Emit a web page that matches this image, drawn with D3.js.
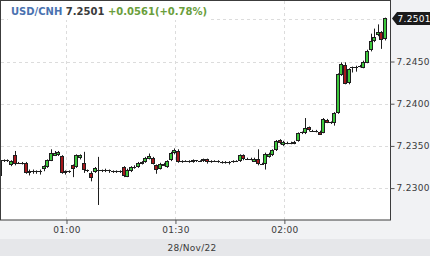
<!DOCTYPE html>
<meta charset="utf-8">
<script src="https://d3js.org/d3.v7.min.js"></script>

<style>
body {
  margin: 0;
  background-color: #F1F2F4;
  font-family: "DejaVu Sans", sans-serif;
}
.grid line {
  stroke: #DCDCDC;
  stroke-dasharray: 3,3;
}
.axis text {
  font-family: "DejaVu Sans", sans-serif;
  font-size: 9px;
  fill: #3A3A3A;
  letter-spacing: 0.3px;
}
.axis path { display: none; }
.axis line { stroke: #555; }
</style>

<svg id="chart" width="430" height="256"></svg>

<script>
// one candle per minute, 00:42 .. 02:28 (28/Nov/22)
const times = [
  "00:42","00:43","00:44","00:45","00:46","00:47","00:48","00:49","00:50","00:51",
  "00:52","00:53","00:54","00:55","00:56","00:57","00:58","00:59","01:00","01:01",
  "01:02","01:03","01:04","01:05","01:06","01:07","01:08","01:09","01:10","01:11",
  "01:12","01:13","01:14","01:15","01:16","01:17","01:18","01:19","01:20","01:21",
  "01:22","01:23","01:24","01:25","01:26","01:27","01:28","01:29","01:30","01:31",
  "01:32","01:33","01:34","01:35","01:36","01:37","01:38","01:39","01:40","01:41",
  "01:42","01:43","01:44","01:45","01:46","01:47","01:48","01:49","01:50","01:51",
  "01:52","01:53","01:54","01:55","01:56","01:57","01:58","01:59","02:00","02:01",
  "02:02","02:03","02:04","02:05","02:06","02:07","02:08","02:09","02:10","02:11",
  "02:12","02:13","02:14","02:15","02:16","02:17","02:18","02:19","02:20","02:21",
  "02:22","02:23","02:24","02:25","02:26","02:27","02:28"
];

const opens = [
  7.2314,7.2332,7.2333,7.2327,7.2339,7.2330,7.2330,7.2330,7.2318,7.2320,
  7.2319,7.2320,7.2322,7.2325,7.2333,7.2339,7.2339,7.2338,7.2318,7.2320,
  7.2327,7.2325,7.2335,7.2330,7.2321,7.2318,7.2319,7.2321,7.2321,7.2320,
  7.2321,7.2320,7.2320,7.2319,7.2325,7.2314,7.2320,7.2324,7.2325,7.2329,
  7.2331,7.2335,7.2336,7.2327,7.2323,7.2327,7.2325,7.2334,7.2341,7.2344,
  7.2331,7.2332,7.2332,7.2331,7.2333,7.2332,7.2332,7.2334,7.2331,7.2332,
  7.2332,7.2331,7.2331,7.2330,7.2331,7.2332,7.2332,7.2339,7.2335,7.2335,
  7.2332,7.2334,7.2329,7.2329,7.2337,7.2339,7.2345,7.2357,7.2351,7.2354,
  7.2354,7.2353,7.2356,7.2365,7.2365,7.2372,7.2368,7.2368,7.2367,7.2366,
  7.2381,7.2378,7.2377,7.2389,7.2434,7.2446,7.2424,7.2442,7.2443,7.2444,
  7.2443,7.2449,7.2463,7.2474,7.2481,7.2485,7.2476
];

const highs = [
  7.2334,7.2334,7.2334,7.2333,7.2344,7.2331,7.2331,7.2331,7.2322,7.2322,
  7.2321,7.2322,7.2327,7.2334,7.2346,7.2344,7.2344,7.2339,7.2321,7.2321,
  7.2328,7.2340,7.2340,7.2343,7.2322,7.2320,7.2325,7.2337,7.2322,7.2323,
  7.2322,7.2321,7.2321,7.2321,7.2326,7.2323,7.2326,7.2327,7.2331,7.2332,
  7.2337,7.2341,7.2337,7.2328,7.2330,7.2330,7.2333,7.2343,7.2347,7.2346,
  7.2333,7.2333,7.2333,7.2334,7.2333,7.2333,7.2335,7.2335,7.2333,7.2333,
  7.2333,7.2332,7.2332,7.2332,7.2333,7.2333,7.2340,7.2340,7.2336,7.2336,
  7.2336,7.2346,7.2330,7.2342,7.2342,7.2346,7.2357,7.2358,7.2356,7.2355,
  7.2355,7.2356,7.2366,7.2367,7.2383,7.2373,7.2369,7.2369,7.2368,7.2383,
  7.2382,7.2379,7.2390,7.2436,7.2449,7.2449,7.2442,7.2444,7.2445,7.2446,
  7.2451,7.2464,7.2483,7.2489,7.2494,7.2486,7.2502
];

const lows = [
  7.2312,7.2331,7.2331,7.2326,7.2327,7.2329,7.2328,7.2317,7.2315,7.2317,
  7.2317,7.2316,7.2320,7.2324,7.2332,7.2338,7.2338,7.2317,7.2316,7.2318,
  7.2313,7.2324,7.2334,7.2318,7.2319,7.2308,7.2318,7.2280,7.2319,7.2319,
  7.2318,7.2318,7.2318,7.2318,7.2313,7.2313,7.2319,7.2323,7.2324,7.2328,
  7.2330,7.2334,7.2328,7.2317,7.2322,7.2326,7.2324,7.2332,7.2340,7.2330,
  7.2330,7.2331,7.2330,7.2330,7.2331,7.2331,7.2331,7.2329,7.2330,7.2331,
  7.2330,7.2329,7.2329,7.2328,7.2330,7.2331,7.2331,7.2333,7.2334,7.2333,
  7.2331,7.2327,7.2328,7.2322,7.2336,7.2338,7.2344,7.2352,7.2350,7.2352,
  7.2352,7.2352,7.2355,7.2364,7.2364,7.2367,7.2367,7.2366,7.2363,7.2365,
  7.2377,7.2376,7.2374,7.2388,7.2433,7.2423,7.2423,7.2437,7.2438,7.2443,
  7.2442,7.2448,7.2462,7.2473,7.2480,7.2465,7.2475
];

const closes = [
  7.2333,7.2333,7.2332,7.2332,7.2328,7.2330,7.2329,7.2318,7.2320,7.2319,
  7.2320,7.2319,7.2326,7.2333,7.2342,7.2342,7.2343,7.2318,7.2320,7.2319,
  7.2322,7.2339,7.2339,7.2322,7.2320,7.2312,7.2324,7.2320,7.2320,7.2321,
  7.2320,7.2320,7.2319,7.2320,7.2314,7.2322,7.2325,7.2325,7.2330,7.2331,
  7.2336,7.2338,7.2329,7.2321,7.2329,7.2329,7.2332,7.2342,7.2345,7.2331,
  7.2332,7.2332,7.2331,7.2333,7.2332,7.2332,7.2334,7.2330,7.2332,7.2332,
  7.2331,7.2331,7.2330,7.2331,7.2332,7.2332,7.2339,7.2334,7.2335,7.2334,
  7.2335,7.2328,7.2329,7.2341,7.2341,7.2345,7.2356,7.2353,7.2355,7.2354,
  7.2353,7.2355,7.2365,7.2366,7.2371,7.2368,7.2368,7.2367,7.2364,7.2382,
  7.2378,7.2378,7.2389,7.2435,7.2447,7.2424,7.2441,7.2443,7.2444,7.2445,
  7.2450,7.2463,7.2474,7.2479,7.2485,7.2476,7.2501
];

const priceTicks = [7.2300, 7.2350, 7.2400, 7.2450];
const gridPrices = [7.2300, 7.2350, 7.2400, 7.2450, 7.2500];
const timeTicks = ["01:00", "01:30", "02:00"];
const dateLabel = "28/Nov/22";
const symbol = "USD/CNH", last = "7.2501", change = "+0.0561(+0.78%)";

const svg = d3.select("#chart"),
  W = 430, H = 256,
  plotW = 390.5, plotH = 220;

const parse = d3.timeParse("%H:%M");
const data = times.map((t, i) => ({
  t: parse(t), o: opens[i], h: highs[i], l: lows[i], c: closes[i]
}));

const x = d3.scaleTime()
  .domain([parse("00:41"), parse("02:29")])
  .range([-2.5, 389.7]);

const y = d3.scaleLinear()
  .domain([7.22622, 7.25229])
  .range([plotH, 0]);

// date strip at the bottom
svg.append("rect")
  .attr("x", 0).attr("y", 239)
  .attr("width", W).attr("height", H - 239)
  .attr("fill", "#E6E7EA");

svg.append("text")
  .attr("x", 192).attr("y", 251)
  .attr("text-anchor", "middle")
  .attr("font-size", "9px")
  .attr("letter-spacing", "0.3px")
  .attr("fill", "#3A3A3A")
  .text(dateLabel);

// plot background
svg.append("rect")
  .attr("x", 0.5).attr("y", 0.5)
  .attr("width", plotW - 0.5).attr("height", plotH - 0.5)
  .attr("fill", "#fff");

// grid
const grid = svg.append("g").attr("class", "grid");
grid.selectAll("line.h")
  .data(gridPrices)
  .enter().append("line")
  .attr("x1", 1).attr("x2", plotW)
  .attr("y1", d => Math.round(y(d)) + 0.5)
  .attr("y2", d => Math.round(y(d)) + 0.5);
grid.selectAll("line.v")
  .data(timeTicks)
  .enter().append("line")
  .attr("x1", d => Math.round(x(parse(d))) + 0.5)
  .attr("x2", d => Math.round(x(parse(d))) + 0.5)
  .attr("y1", 1).attr("y2", plotH);

// candles
const plot = svg.append("g");
const candle = plot.selectAll("g.candle")
  .data(data)
  .enter().append("g")
  .attr("class", "candle");

candle.append("line")
  .attr("x1", d => Math.round(x(d.t)) - 0.5)
  .attr("x2", d => Math.round(x(d.t)) - 0.5)
  .attr("y1", d => y(d.h))
  .attr("y2", d => y(d.l))
  .attr("stroke", "#1E1E1E")
  .attr("stroke-width", 1);

candle.append("rect")
  .attr("x", d => Math.round(x(d.t)) - 2.5)
  .attr("y", d => Math.round(y(Math.max(d.o, d.c))) + 0.5)
  .attr("width", 3)
  .attr("height", d => Math.max(0.01, Math.round(Math.abs(y(d.o) - y(d.c))) - 1))
  .attr("fill", d => d.c >= d.o ? "#3CC83C" : "#A5171C")
  .attr("stroke", "#1E1E1E")
  .attr("stroke-width", 1);

// frame
svg.append("rect")
  .attr("x", 0.5).attr("y", 0.5)
  .attr("width", plotW - 0.5).attr("height", plotH - 0.5)
  .attr("fill", "none")
  .attr("stroke", "#3C3C3C");

// axes
svg.append("g")
  .attr("class", "axis")
  .attr("transform", "translate(" + plotW + ",0)")
  .call(d3.axisRight(y).tickValues(priceTicks).tickSize(4).tickPadding(2)
    .tickFormat(d3.format(".4f")));

svg.append("g")
  .attr("class", "axis")
  .attr("transform", "translate(0," + plotH + ")")
  .call(d3.axisBottom(x).tickValues(timeTicks.map(parse)).tickSize(4).tickPadding(3)
    .tickFormat(d3.timeFormat("%H:%M")));

// last price marker
const ly = y(closes[closes.length - 1]);
svg.append("path")
  .attr("d", "M392," + ly + " L397," + (ly - 6.5) + " L430," + (ly - 6.5) +
    " L430," + (ly + 6.5) + " L397," + (ly + 6.5) + "Z")
  .attr("fill", "#1B1B1B");
svg.append("text")
  .attr("x", 397.5).attr("y", ly + 3.5)
  .attr("font-size", "9px")
  .attr("letter-spacing", "0.3px")
  .attr("fill", "#fff")
  .text(last);

// title
svg.append("rect")
  .attr("x", 8).attr("y", 1)
  .attr("width", 200).attr("height", 19)
  .attr("fill", "#fff");
const title = svg.append("text")
  .attr("x", 11).attr("y", 15)
  .attr("font-size", "10px")
  .attr("font-weight", "bold");
title.append("tspan").attr("fill", "#4A72B0").text(symbol + " ");
title.append("tspan").attr("fill", "#3A3A3A").text(last + " ");
title.append("tspan").attr("fill", "#6A9E3C").text(change);
</script>
